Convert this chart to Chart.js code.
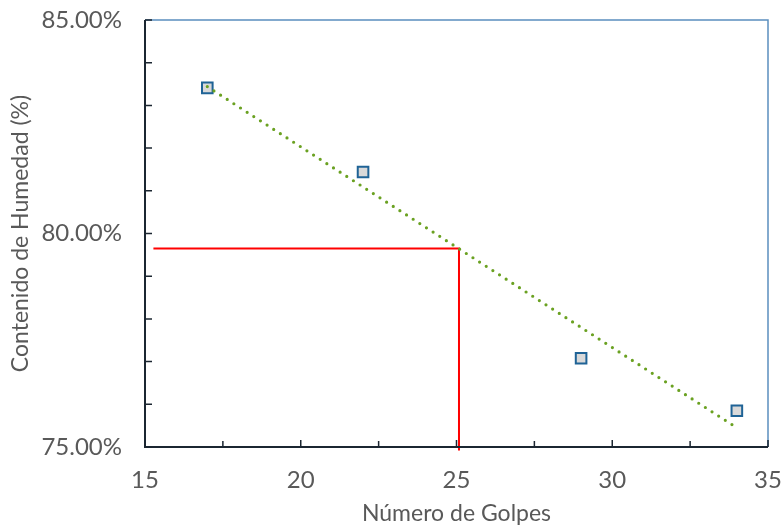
<!DOCTYPE html>
<html>
<head>
<meta charset="utf-8">
<script src="https://cdn.jsdelivr.net/npm/chart.js@4.4.1/dist/chart.umd.min.js"></script>
<style>
  html,body{margin:0;padding:0;background:#fff;}
  #wrap{width:784px;height:527px;position:relative;}
</style>
</head>
<body>
<div id="wrap"><canvas id="c" width="784" height="527"></canvas></div>
<script>
// Data
const golpes  = [17, 22, 29, 34];
const humedad = [83.41, 81.44, 77.08, 75.85];
const trendX  = [17, 34];
const trendY  = [83.44, 75.45];
const refX    = [15.27, 25.08, 25.08];
const refY    = [79.65, 79.65, 74.92];
const xTitle  = 'Número de Golpes';
const yTitle  = 'Contenido de Humedad (%)';

const toPts = (xs, ys) => xs.map((x, i) => ({x: x, y: ys[i]}));
const FONT = 'Lato, "Open Sans", sans-serif';
const TXT = '#595959';

const frame = {
  id: 'frame',
  afterDatasetsDraw(chart) {
    const {ctx, chartArea: a, scales: {x, y}} = chart;
    ctx.save();
    ctx.strokeStyle = '#5b8fbf';
    ctx.lineWidth = 1.5;
    ctx.beginPath();
    ctx.moveTo(a.left, a.top); ctx.lineTo(a.right, a.top); ctx.lineTo(a.right, a.bottom);
    ctx.stroke();
    ctx.strokeStyle = '#1b2631';
    ctx.lineWidth = 2;
    ctx.beginPath();
    ctx.moveTo(a.left, a.top); ctx.lineTo(a.left, a.bottom); ctx.lineTo(a.right, a.bottom);
    ctx.stroke();
    ctx.lineWidth = 1.5;
    ctx.beginPath();
    for (let v = 75; v <= 85; v += 1) {
      const p = y.getPixelForValue(v);
      ctx.moveTo(a.left, p); ctx.lineTo(a.left + 7, p);
    }
    for (let v = 15; v <= 35; v += 2.5) {
      const p = x.getPixelForValue(v);
      const len = (v % 5 === 0) ? 7 : 6;
      ctx.moveTo(p, a.bottom); ctx.lineTo(p, a.bottom - len);
    }
    ctx.stroke();
    ctx.restore();
  }
};

function noPad(s) { s.paddingTop = 0; s.paddingBottom = 0; s.paddingLeft = 0; s.paddingRight = 0; }

new Chart(document.getElementById('c'), {
  type: 'scatter',
  data: {
    datasets: [
      {
        label: 'Tendencia',
        type: 'line',
        data: toPts(trendX, trendY),
        borderColor: '#6aa121',
        borderWidth: 3.2,
        borderCapStyle: 'round',
        borderDash: [0, 7.9],
        pointRadius: 0,
        fill: false,
        order: 0
      },
      {
        label: 'Datos',
        data: toPts(golpes, humedad),
        pointStyle: 'rect',
        pointRadius: 7.5,
        pointBorderWidth: 2,
        pointBackgroundColor: '#d9d9d9',
        pointBorderColor: '#1f6396',
        order: 1
      },
      {
        label: 'Referencia',
        type: 'line',
        data: toPts(refX, refY),
        borderColor: '#ff0000',
        borderWidth: 2,
        pointRadius: 0,
        fill: false,
        clip: false,
        order: 2
      }
    ]
  },
  options: {
    responsive: false,
    animation: false,
    layout: {padding: {top: 20, right: 16, left: 0, bottom: 0}},
    plugins: {legend: {display: false}, tooltip: {enabled: false}},
    scales: {
      x: {
        type: 'linear', min: 15, max: 35,
        afterFit(s) { s.height = 80; noPad(s); },
        grid: {display: false, drawTicks: false},
        border: {display: false},
        ticks: {stepSize: 5, padding: 19, color: TXT, font: {family: FONT, size: 24}},
        title: {display: true, text: xTitle, color: TXT, font: {family: FONT, size: 23}, padding: {top: 2, bottom: 0}}
      },
      y: {
        type: 'linear', min: 75, max: 85,
        afterFit(s) { s.width = 145; noPad(s); },
        grid: {display: false, drawTicks: false},
        border: {display: false},
        ticks: {stepSize: 5, padding: 23, color: TXT, font: {family: FONT, size: 24},
          callback: v => v.toFixed(2) + '%'},
        title: {display: true, text: yTitle, color: TXT, font: {family: FONT, size: 23}, padding: {top: 7, bottom: 0}}
      }
    }
  },
  plugins: [frame]
});
</script>
</body>
</html>
